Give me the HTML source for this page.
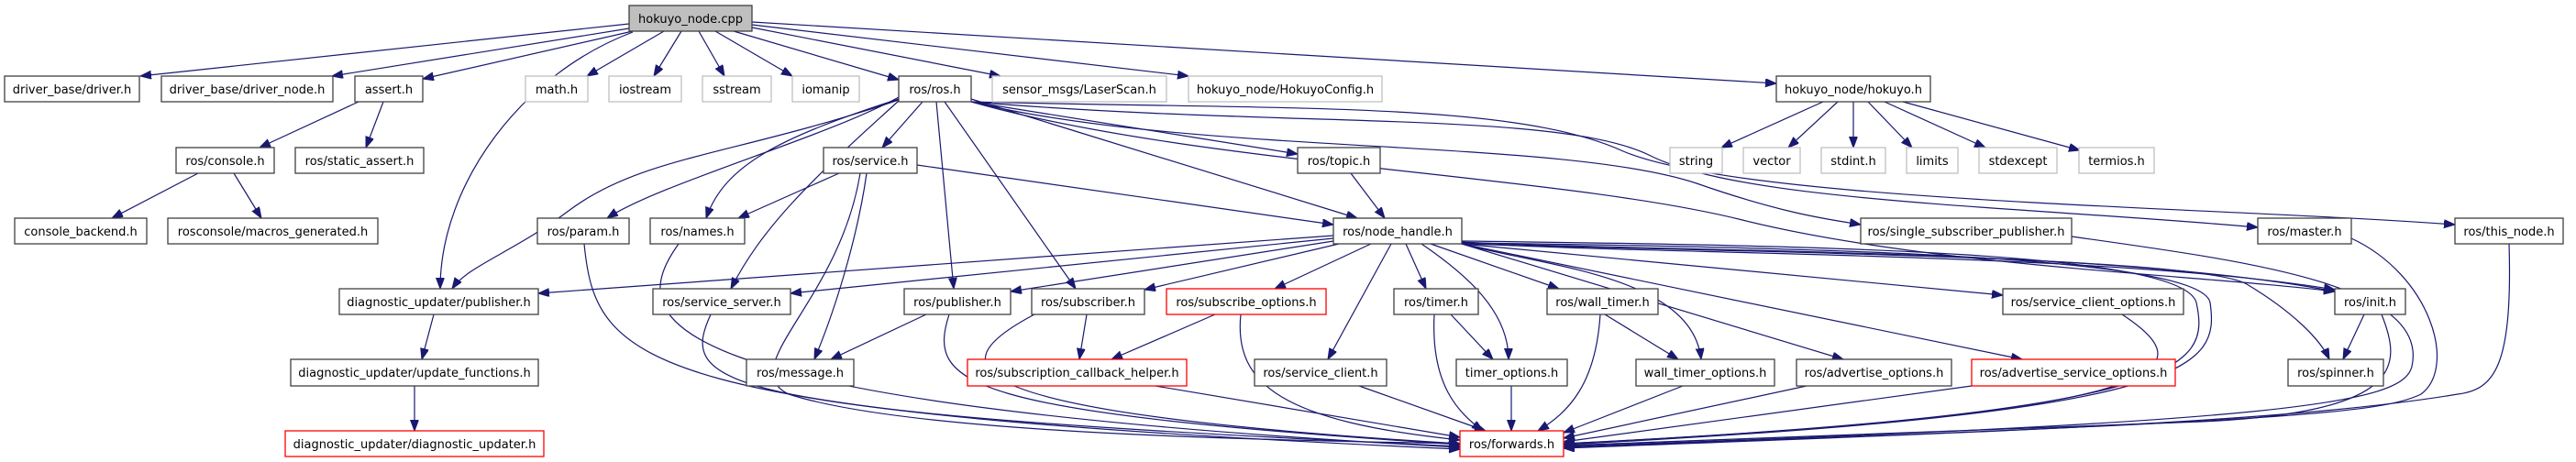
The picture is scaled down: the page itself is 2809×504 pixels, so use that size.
<!DOCTYPE html>
<html><head><meta charset="utf-8"><style>
html,body{margin:0;padding:0;background:#fff;}
svg{display:block;}
text{font-family:"DejaVu Sans","Liberation Sans",sans-serif;font-size:13px;fill:#000;}
.e{fill:none;stroke:#191970;stroke-width:1.2;marker-end:url(#a);}
.n{fill:#fff;stroke:#404040;stroke-width:1.3;}
.g{fill:#fff;stroke:#bfbfbf;stroke-width:1.3;}
.r{fill:#fff;stroke:#ff0000;stroke-width:1.3;}
</style></head><body>
<svg width="2809" height="504" viewBox="0 0 2809 504" xmlns="http://www.w3.org/2000/svg">
<defs><marker id="a" markerUnits="userSpaceOnUse" markerWidth="14" markerHeight="12" refX="12" refY="4.5" orient="auto"><path d="M0,0 L12,4.5 L0,9 z" fill="#191970" stroke="#191970"/></marker></defs>
<g>
<path class="e" d="M686,26 L153,83"/>
<path class="e" d="M686,31 L362,83"/>
<path class="e" d="M690,34 L461,86"/>
<path class="e" d="M690,35 C570,80 480,200 480,315"/>
<path class="e" d="M724,34 L640,83"/>
<path class="e" d="M743,34 L713,83"/>
<path class="e" d="M762,34 L790,83"/>
<path class="e" d="M780,34 L864,83"/>
<path class="e" d="M800,34 L980,87"/>
<path class="e" d="M820,30 L1091,83"/>
<path class="e" d="M820,27 L1296,83"/>
<path class="e" d="M820,24 L1937,91"/>
<path class="e" d="M391,111 L283,161"/>
<path class="e" d="M418,111 L399,161"/>
<path class="e" d="M216,189 L122,238"/>
<path class="e" d="M255,189 L285,238"/>
<path class="e" d="M1006,111 L962,161"/>
<path class="e" d="M980,106 C900,150 720,200 662,238"/>
<path class="e" d="M980,108 C850,150 790,180 770,238"/>
<path class="e" d="M980,109 C800,170 700,170 620,230 C560,275 510,290 493,315"/>
<path class="e" d="M980,110 C880,200 830,250 797,315"/>
<path class="e" d="M1021,111 L1040,315"/>
<path class="e" d="M1030,111 L1173,315"/>
<path class="e" d="M1059,108 L1480,238"/>
<path class="e" d="M1059,111 L1415,168"/>
<path class="e" d="M1059,111 C1300,170 1700,150 1850,200 C1950,235 2000,240 2029,245"/>
<path class="e" d="M1059,111 C1400,140 1700,120 1800,170 C1900,220 2200,225 2462,248"/>
<path class="e" d="M1059,111 C1400,120 1650,110 1770,165 C1900,220 2400,225 2677,245"/>
<path class="e" d="M1059,111 C1300,180 1700,190 1900,240 C2100,290 2400,300 2546,318"/>
<path class="e" d="M915,189 L805,238"/>
<path class="e" d="M1000,180 L1454,245"/>
<path class="e" d="M945,189 C935,260 910,340 888,392"/>
<path class="e" d="M938,189 C915,330 800,400 860,430 C1000,475 1400,480 1592,484"/>
<path class="e" d="M1473,189 L1510,238"/>
<path class="e" d="M1454,257 L587,320"/>
<path class="e" d="M1454,260 L862,320"/>
<path class="e" d="M1454,263 L1102,318"/>
<path class="e" d="M1460,266 L1248,316"/>
<path class="e" d="M1495,266 L1390,315"/>
<path class="e" d="M1517,266 L1448,392"/>
<path class="e" d="M1533,266 L1555,315"/>
<path class="e" d="M1550,266 C1600,300 1645,340 1645,392"/>
<path class="e" d="M1560,266 L1700,315"/>
<path class="e" d="M1594,266 C1680,290 1845,300 1855,392"/>
<path class="e" d="M1594,266 L2010,392"/>
<path class="e" d="M1594,266 L2205,392"/>
<path class="e" d="M1594,266 L2184,322"/>
<path class="e" d="M1594,264 C1800,275 2300,270 2546,318"/>
<path class="e" d="M1594,265 C1800,278 2300,275 2546,316"/>
<path class="e" d="M1594,266 C1900,275 2400,280 2450,310 C2500,340 2530,370 2540,392"/>
<path class="e" d="M1594,265 C2000,270 2400,280 2410,330 C2420,400 2400,450 1705,485"/>
<path class="e" d="M1594,263 C2000,268 2380,275 2395,330 C2410,400 2390,450 1705,484"/>
<path class="e" d="M2578,343 L2555,392"/>
<path class="e" d="M2597,343 C2620,400 2620,450 2400,460 L1705,486"/>
<path class="e" d="M2259,258 C2450,285 2650,310 2630,400 C2620,440 2500,460 1705,487"/>
<path class="e" d="M2564,260 C2650,300 2680,400 2640,430 C2600,450 2500,460 1705,488"/>
<path class="e" d="M2736,266 C2740,400 2720,425 2680,430 C2500,460 2200,470 1705,489"/>
<path class="e" d="M2314,343 C2400,400 2400,450 1705,484"/>
<path class="e" d="M1970,421 L1705,478"/>
<path class="e" d="M2150,421 L1705,482"/>
<path class="e" d="M1835,421 L1705,472"/>
<path class="e" d="M1750,343 L1830,392"/>
<path class="e" d="M1745,343 C1740,420 1710,450 1677,470"/>
<path class="e" d="M1582,343 L1628,392"/>
<path class="e" d="M1564,343 C1560,420 1590,450 1617,470"/>
<path class="e" d="M1648,421 L1648,470"/>
<path class="e" d="M1482,421 L1620,470"/>
<path class="e" d="M1260,421 L1592,477"/>
<path class="e" d="M1325,343 L1212,392"/>
<path class="e" d="M1185,343 L1177,392"/>
<path class="e" d="M1353,343 C1345,420 1400,460 1592,480"/>
<path class="e" d="M1128,343 C1020,400 1030,450 1592,484"/>
<path class="e" d="M1010,343 L906,392"/>
<path class="e" d="M1035,343 C1010,420 1050,450 1592,485"/>
<path class="e" d="M775,343 C740,420 770,450 1592,487"/>
<path class="e" d="M740,266 C680,350 700,440 1592,488"/>
<path class="e" d="M637,266 C650,400 700,450 1592,490"/>
<path class="e" d="M473,343 L460,392"/>
<path class="e" d="M452,421 L452,470"/>
<path class="e" d="M1988,111 L1877,161"/>
<path class="e" d="M2004,111 L1950,161"/>
<path class="e" d="M2021,111 L2021,161"/>
<path class="e" d="M2037,111 L2085,161"/>
<path class="e" d="M2055,111 L2165,161"/>
<path class="e" d="M2075,111 L2268,164"/>
</g>
<g>
<rect x="686" y="6" width="134" height="28" fill="#bfbfbf" stroke="#404040" stroke-width="1.3"/><text x="753" y="25" text-anchor="middle">hokuyo_node.cpp</text>
<rect class="n" x="5" y="83" width="147" height="28"/><text x="78.5" y="102" text-anchor="middle">driver_base/driver.h</text>
<rect class="n" x="176" y="83" width="187" height="28"/><text x="269.5" y="102" text-anchor="middle">driver_base/driver_node.h</text>
<rect class="n" x="387" y="83" width="74" height="28"/><text x="424" y="102" text-anchor="middle">assert.h</text>
<rect class="g" x="573" y="83" width="68" height="28"/><text x="607" y="102" text-anchor="middle">math.h</text>
<rect class="g" x="664" y="83" width="79" height="28"/><text x="703.5" y="102" text-anchor="middle">iostream</text>
<rect class="g" x="766" y="83" width="75" height="28"/><text x="803.5" y="102" text-anchor="middle">sstream</text>
<rect class="g" x="864" y="83" width="73" height="28"/><text x="900.5" y="102" text-anchor="middle">iomanip</text>
<rect class="n" x="980" y="83" width="79" height="28"/><text x="1019.5" y="102" text-anchor="middle">ros/ros.h</text>
<rect class="g" x="1082" y="83" width="190" height="28"/><text x="1177" y="102" text-anchor="middle">sensor_msgs/LaserScan.h</text>
<rect class="g" x="1296" y="83" width="211" height="28"/><text x="1401.5" y="102" text-anchor="middle">hokuyo_node/HokuyoConfig.h</text>
<rect class="n" x="1937" y="83" width="168" height="28"/><text x="2021" y="102" text-anchor="middle">hokuyo_node/hokuyo.h</text>

<rect class="n" x="192" y="161" width="107" height="28"/><text x="245.5" y="180" text-anchor="middle">ros/console.h</text>
<rect class="n" x="322" y="161" width="140" height="28"/><text x="392" y="180" text-anchor="middle">ros/static_assert.h</text>
<rect class="n" x="898" y="161" width="102" height="28"/><text x="949" y="180" text-anchor="middle">ros/service.h</text>
<rect class="n" x="1415" y="161" width="90" height="28"/><text x="1460" y="180" text-anchor="middle">ros/topic.h</text>
<rect class="g" x="1821" y="161" width="57" height="28"/><text x="1849.5" y="180" text-anchor="middle">string</text>
<rect class="g" x="1901" y="161" width="62" height="28"/><text x="1932" y="180" text-anchor="middle">vector</text>
<rect class="g" x="1986" y="161" width="70" height="28"/><text x="2021" y="180" text-anchor="middle">stdint.h</text>
<rect class="g" x="2079" y="161" width="56" height="28"/><text x="2107" y="180" text-anchor="middle">limits</text>
<rect class="g" x="2158" y="161" width="85" height="28"/><text x="2200.5" y="180" text-anchor="middle">stdexcept</text>
<rect class="g" x="2267" y="161" width="82" height="28"/><text x="2308" y="180" text-anchor="middle">termios.h</text>

<rect class="n" x="16" y="238" width="144" height="28"/><text x="88" y="257" text-anchor="middle">console_backend.h</text>
<rect class="n" x="183" y="238" width="229" height="28"/><text x="297.5" y="257" text-anchor="middle">rosconsole/macros_generated.h</text>
<rect class="n" x="586" y="238" width="100" height="28"/><text x="636" y="257" text-anchor="middle">ros/param.h</text>
<rect class="n" x="709" y="238" width="103" height="28"/><text x="760.5" y="257" text-anchor="middle">ros/names.h</text>
<rect class="n" x="1454" y="238" width="140" height="28"/><text x="1524" y="257" text-anchor="middle">ros/node_handle.h</text>
<rect class="n" x="2029" y="238" width="230" height="28"/><text x="2144" y="257" text-anchor="middle">ros/single_subscriber_publisher.h</text>
<rect class="n" x="2462" y="238" width="102" height="28"/><text x="2513" y="257" text-anchor="middle">ros/master.h</text>
<rect class="n" x="2677" y="238" width="118" height="28"/><text x="2736" y="257" text-anchor="middle">ros/this_node.h</text>

<rect class="n" x="370" y="315" width="217" height="28"/><text x="478.5" y="334" text-anchor="middle">diagnostic_updater/publisher.h</text>
<rect class="n" x="712" y="315" width="150" height="28"/><text x="787" y="334" text-anchor="middle">ros/service_server.h</text>
<rect class="n" x="986" y="315" width="116" height="28"/><text x="1044" y="334" text-anchor="middle">ros/publisher.h</text>
<rect class="n" x="1125" y="315" width="123" height="28"/><text x="1186.5" y="334" text-anchor="middle">ros/subscriber.h</text>
<rect class="r" x="1272" y="315" width="174" height="28"/><text x="1359" y="334" text-anchor="middle">ros/subscribe_options.h</text>
<rect class="n" x="1520" y="315" width="92" height="28"/><text x="1566" y="334" text-anchor="middle">ros/timer.h</text>
<rect class="n" x="1687" y="315" width="121" height="28"/><text x="1747.5" y="334" text-anchor="middle">ros/wall_timer.h</text>
<rect class="n" x="2184" y="315" width="197" height="28"/><text x="2282.5" y="334" text-anchor="middle">ros/service_client_options.h</text>
<rect class="n" x="2546" y="315" width="77" height="28"/><text x="2584.5" y="334" text-anchor="middle">ros/init.h</text>

<rect class="n" x="317" y="392" width="270" height="29"/><text x="452" y="411" text-anchor="middle">diagnostic_updater/update_functions.h</text>
<rect class="n" x="814" y="392" width="117" height="29"/><text x="872.5" y="411" text-anchor="middle">ros/message.h</text>
<rect class="r" x="1055" y="392" width="239" height="29"/><text x="1174.5" y="411" text-anchor="middle">ros/subscription_callback_helper.h</text>
<rect class="n" x="1368" y="392" width="144" height="29"/><text x="1440" y="411" text-anchor="middle">ros/service_client.h</text>
<rect class="n" x="1588" y="392" width="121" height="29"/><text x="1648.5" y="411" text-anchor="middle">timer_options.h</text>
<rect class="n" x="1784" y="392" width="151" height="29"/><text x="1859.5" y="411" text-anchor="middle">wall_timer_options.h</text>
<rect class="n" x="1959" y="392" width="169" height="29"/><text x="2043.5" y="411" text-anchor="middle">ros/advertise_options.h</text>
<rect class="r" x="2150" y="392" width="222" height="29"/><text x="2261" y="411" text-anchor="middle">ros/advertise_service_options.h</text>
<rect class="n" x="2495" y="392" width="104" height="29"/><text x="2547" y="411" text-anchor="middle">ros/spinner.h</text>

<rect class="r" x="311" y="470" width="282" height="28"/><text x="452" y="489" text-anchor="middle">diagnostic_updater/diagnostic_updater.h</text>
<rect class="r" x="1592" y="470" width="113" height="28"/><text x="1648.5" y="489" text-anchor="middle">ros/forwards.h</text>
</g>
</svg>
</body></html>
